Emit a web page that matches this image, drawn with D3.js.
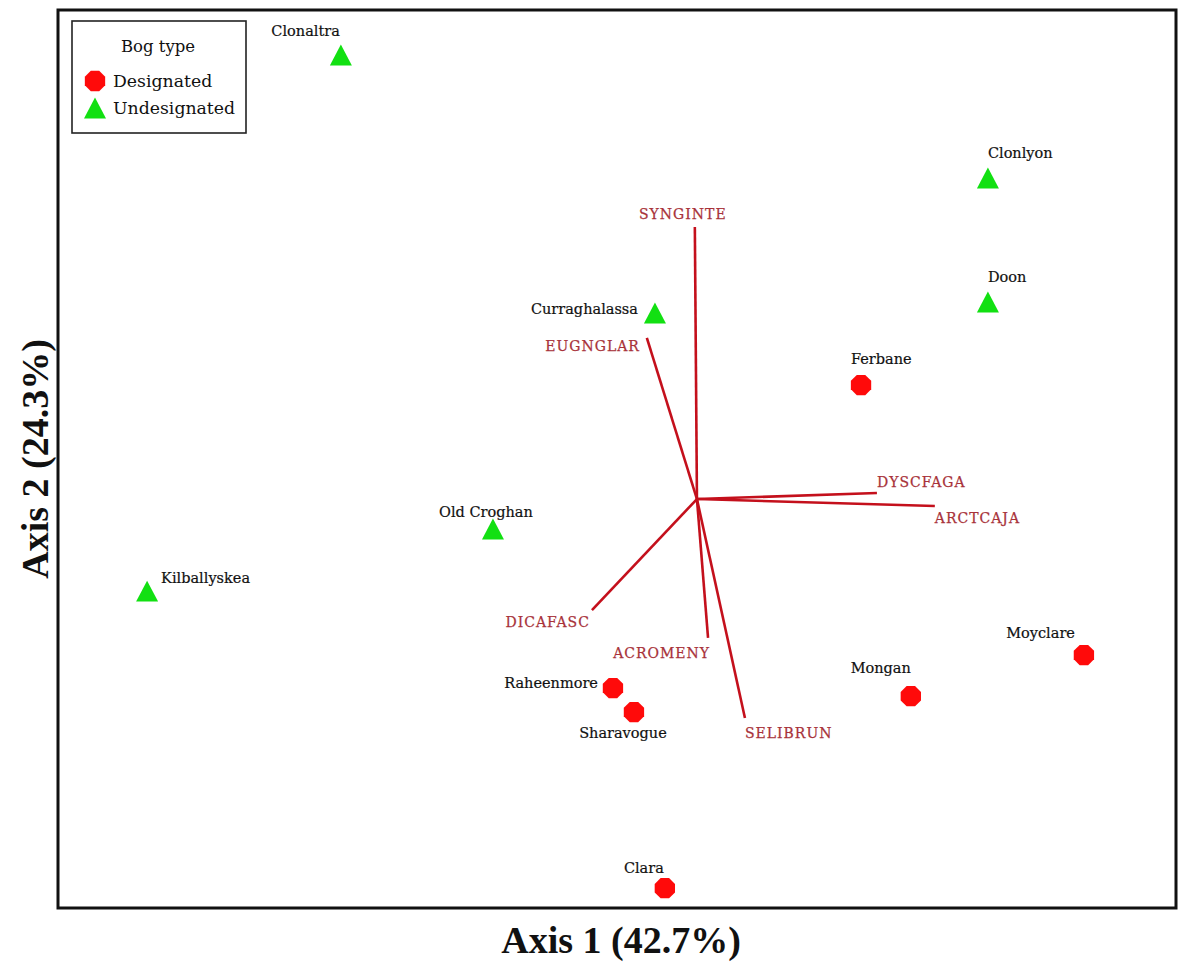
<!DOCTYPE html>
<html>
<head>
<meta charset="utf-8">
<script src="https://cdn.jsdelivr.net/npm/d3@7"></script>
<style>
  html, body { margin: 0; padding: 0; background: #fff; }
  svg { display: block; }
</style>
</head>
<body>
<svg id="chart" width="1178" height="967"></svg>
<script>
// Ordination site scores (Axis 1, Axis 2) and bog type
const siteNames = ["Clonaltra", "Clonlyon", "Doon", "Curraghalassa", "Ferbane", "Old Croghan",
  "Kilballyskea", "Moyclare", "Mongan", "Raheenmore", "Sharavogue", "Clara"];
const siteAxis1 = [-1.187, 0.970, 0.970, -0.140, 0.547, -0.680, -1.833, 1.290, 0.713, -0.280, -0.210, -0.107];
const siteAxis2 = [1.480, 1.070, 0.657, 0.620, 0.380, -0.100, -0.307, -0.520, -0.657, -0.630, -0.710, -1.297];
const siteType = ["Undesignated", "Undesignated", "Undesignated", "Undesignated", "Designated", "Undesignated",
  "Undesignated", "Designated", "Designated", "Designated", "Designated", "Designated"];

// Species vectors (biplot arrow tips)
const speciesNames = ["SYNGINTE", "EUGNGLAR", "DYSCFAGA", "ARCTCAJA", "DICAFASC", "ACROMENY", "SELIBRUN"];
const speciesAxis1 = [-0.007, -0.167, 0.600, 0.793, -0.350, 0.037, 0.160];
const speciesAxis2 = [0.907, 0.537, 0.020, -0.023, -0.370, -0.463, -0.730];

const bogTypes = ["Designated", "Undesignated"];
const axisTitles = ["Axis 1 (42.7%)", "Axis 2 (24.3%)"];
const legendTitle = "Bog type";

// ---- layout ----
const svg = d3.select("#chart");
const frame = { left: 58, top: 10, right: 1176, bottom: 908 };

const x = d3.scaleLinear().domain([-2.13, 1.597]).range([frame.left, frame.right]);
const y = d3.scaleLinear().domain([-1.363, 1.63]).range([frame.bottom, frame.top]);

const serif = "'DejaVu Serif', serif";
const titleFont = "'Liberation Serif', 'Times New Roman', serif";

// label placement for each site: [dx, dy, anchor]
const siteLabelPos = {
  "Clonaltra": [-1, -19, "end"],
  "Clonlyon": [0, -20, "start"],
  "Doon": [0, -20, "start"],
  "Curraghalassa": [-17, 1, "end"],
  "Ferbane": [-10, -21, "start"],
  "Old Croghan": [-7, -12, "middle"],
  "Kilballyskea": [14, -8, "start"],
  "Moyclare": [-9, -17, "end"],
  "Mongan": [0, -23, "end"],
  "Raheenmore": [-15, 0, "end"],
  "Sharavogue": [-11, 26, "middle"],
  "Clara": [-1, -15, "end"]
};
// label placement for each species vector tip
const speciesLabelPos = {
  "SYNGINTE": [-12, -8, "middle"],
  "EUGNGLAR": [-7, 13, "end"],
  "DYSCFAGA": [0, -6, "start"],
  "ARCTCAJA": [0, 17, "start"],
  "DICAFASC": [-2, 17, "end"],
  "ACROMENY": [2, 20, "end"],
  "SELIBRUN": [0, 20, "start"]
};

// marker shapes
const triangleShape = {
  draw(ctx, size) {
    const s = Math.sqrt(size);
    const h = s * 0.95;
    ctx.moveTo(0, -h / 2);
    ctx.lineTo(s / 2, h / 2);
    ctx.lineTo(-s / 2, h / 2);
    ctx.closePath();
  }
};
const octagonShape = {
  draw(ctx, size) {
    const r = Math.sqrt(size) / 2;
    for (let i = 0; i < 8; i++) {
      const a = Math.PI / 8 + i * Math.PI / 4;
      const px = r * Math.cos(a), py = r * Math.sin(a);
      if (i === 0) ctx.moveTo(px, py); else ctx.lineTo(px, py);
    }
    ctx.closePath();
  }
};
const markerStyle = {
  "Designated": { shape: octagonShape, size: 22 * 22, fill: "#ff0a0a" },
  "Undesignated": { shape: triangleShape, size: 22 * 22, fill: "#12e012" }
};

// white background
svg.append("rect").attr("width", 1178).attr("height", 967).attr("fill", "#fff");

// species vectors
const origin = [x(0), y(0)];
const vecG = svg.append("g");
speciesNames.forEach((name, i) => {
  const tx = x(speciesAxis1[i]), ty = y(speciesAxis2[i]);
  vecG.append("line")
    .attr("x1", origin[0]).attr("y1", origin[1])
    .attr("x2", tx).attr("y2", ty)
    .attr("stroke", "#c4101c")
    .attr("stroke-width", 2.6);
  const [dx, dy, anchor] = speciesLabelPos[name];
  vecG.append("text")
    .attr("x", tx + dx).attr("y", ty + dy)
    .attr("text-anchor", anchor)
    .attr("font-family", serif)
    .attr("font-size", 14)
    .attr("letter-spacing", 1)
    .attr("fill", "#a8323a")
    .attr("stroke", "#a8323a").attr("stroke-width", 0.25)
    .text(name);
});

// sites
const siteG = svg.append("g");
siteNames.forEach((name, i) => {
  const cx = x(siteAxis1[i]), cy = y(siteAxis2[i]);
  const st = markerStyle[siteType[i]];
  siteG.append("path")
    .attr("transform", `translate(${cx},${cy})`)
    .attr("d", d3.symbol().type(st.shape).size(st.size)())
    .attr("fill", st.fill);
  const [dx, dy, anchor] = siteLabelPos[name];
  siteG.append("text")
    .attr("x", cx + dx).attr("y", cy + dy)
    .attr("text-anchor", anchor)
    .attr("font-family", serif)
    .attr("font-size", 14.5)
    .attr("fill", "#111")
    .attr("stroke", "#111").attr("stroke-width", 0.2)
    .text(name);
});

// plot frame
svg.append("rect")
  .attr("x", frame.left).attr("y", frame.top)
  .attr("width", frame.right - frame.left).attr("height", frame.bottom - frame.top)
  .attr("fill", "none").attr("stroke", "#111").attr("stroke-width", 3);

// legend
const lg = svg.append("g");
lg.append("rect")
  .attr("x", 72).attr("y", 21).attr("width", 174).attr("height", 112)
  .attr("fill", "#fff").attr("stroke", "#222").attr("stroke-width", 1.6);
lg.append("text")
  .attr("x", 158).attr("y", 52)
  .attr("text-anchor", "middle")
  .attr("font-family", serif).attr("font-size", 16.5)
  .attr("fill", "#111")
  .text(legendTitle);
bogTypes.forEach((t, i) => {
  const ly = 81 + i * 27;
  const st = markerStyle[t];
  lg.append("path")
    .attr("transform", `translate(95,${ly})`)
    .attr("d", d3.symbol().type(st.shape).size(st.size)())
    .attr("fill", st.fill);
  lg.append("text")
    .attr("x", 113).attr("y", ly + 6)
    .attr("font-family", serif).attr("font-size", 17.3)
    .attr("fill", "#111")
    .text(t);
});

// axis titles
svg.append("text")
  .attr("x", (frame.left + frame.right) / 2 + 4).attr("y", 953)
  .attr("text-anchor", "middle")
  .attr("font-family", titleFont).attr("font-weight", "bold")
  .attr("font-size", 38)
  .attr("fill", "#111")
  .text(axisTitles[0]);
svg.append("text")
  .attr("transform", `translate(48,${(frame.top + frame.bottom) / 2}) rotate(-90)`)
  .attr("text-anchor", "middle")
  .attr("font-family", titleFont).attr("font-weight", "bold")
  .attr("font-size", 38)
  .attr("fill", "#111")
  .text(axisTitles[1]);
</script>
</body>
</html>
